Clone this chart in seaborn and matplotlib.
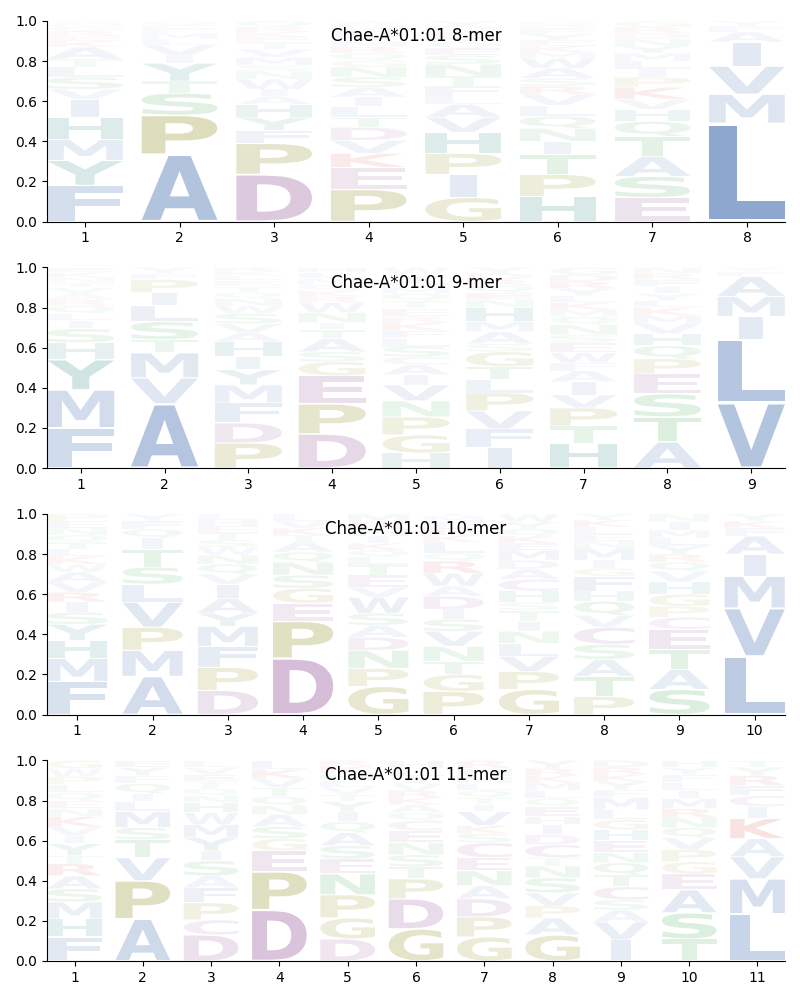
import matplotlib
matplotlib.use("Agg")
import matplotlib.pyplot as plt
import matplotlib.transforms as mtransforms
from matplotlib.textpath import TextPath
from matplotlib.patches import PathPatch
from matplotlib.font_manager import FontProperties
from matplotlib.colors import to_rgba
import seaborn as sns

# letters per position, bottom to top, with their frequencies
mer8_letters = ["FYMHIVSLTAKERQNW", "APSTYIVLMFEQ", "DPFYHAIWNSMVTEKRQ",
                "PEKVDTLIASNGQRMYFHW", "GIPHVALFTNSEQMKDY", "HPTINQLVRSAWMKEYFDG",
                "ESATQHVKPILMYNDRG", "LMVIAFY"]
mer8_heights = [
    [.18, .125, .105, .11, .09, .05, .06, .05, .04, .06, .03, .025, .025, .02, .015, .015],
    [.335, .195, .11, .06, .09, .04, .05, .03, .03, .02, .02, .02],
    [.235, .155, .065, .065, .065, .04, .035, .05, .04, .03, .04, .04, .03, .03, .025, .025, .03],
    [.16, .11, .07, .065, .065, .05, .055, .045, .05, .05, .05, .035, .035, .03, .03, .03, .03, .02, .02],
    [.12, .115, .105, .105, .075, .065, .04, .05, .05, .06, .045, .035, .03, .03, .025, .025, .025],
    [.125, .11, .1, .065, .065, .06, .055, .055, .04, .04, .05, .05, .03, .03, .03, .03, .025, .02, .02],
    [.12, .105, .1, .1, .075, .06, .05, .06, .05, .04, .04, .04, .035, .035, .03, .03, .03],
    [.49, .145, .14, .12, .05, .03, .025],
]

mer9_letters = ["FMYHSILQRAVTNKE", "AVMTSLIPFY", "PDFMYIHAVSWNQTELKR",
                "DPEGSATINWRKQMLH", "HGPNVIACSLFKRETQMDYW", "IFVPLTGSAMHNEQRDY",
                "HTPVIAFWESNQMKLYRDG", "ATSEPQHVMKLYIFRN", "VLIMAFY"]
mer9_heights = [
    [.2, .19, .15, .085, .07, .04, .035, .04, .03, .03, .03, .025, .025, .025, .025],
    [.32, .13, .125, .065, .09, .08, .065, .065, .03, .03],
    [.125, .1, .1, .09, .075, .065, .075, .045, .045, .05, .04, .035, .03, .03, .03, .025, .02, .02],
    [.17, .15, .14, .07, .05, .065, .045, .035, .05, .05, .03, .03, .03, .03, .03, .025],
    [.075, .09, .09, .08, .08, .05, .05, .04, .05, .04, .04, .04, .03, .04, .04, .035, .03, .03, .035, .035],
    [.105, .09, .09, .09, .065, .065, .075, .04, .06, .05, .07, .04, .035, .035, .03, .03, .03],
    [.125, .085, .09, .065, .065, .055, .04, .05, .05, .04, .05, .04, .035, .035, .035, .035, .035, .035, .035],
    [.13, .125, .115, .1, .075, .065, .06, .05, .04, .04, .035, .035, .035, .035, .03, .03],
    [.325, .315, .115, .1, .1, .025, .02],
]

mer10_letters = ["FMHYSIRVAWKLTQNEP", "AMPVLSTIQFY", "DPFMYAIVQNWSTEHL",
                 "DPEGSNQATKVL", "GPNDASWVETLQKIHRM", "PGTNVSIDAWRQLKEFMY",
                 "GPVLNITSHCADMEKQYW", "PTASCVQHFGIMNELKY", "SATECPGHVQRYLMIN",
                 "LVMIAFKY"]
mer10_heights = [
    [.165, .115, .09, .08, .06, .05, .05, .05, .05, .04, .04, .035, .035, .035, .035, .035, .035],
    [.19, .13, .115, .125, .09, .085, .09, .055, .045, .04, .035],
    [.12, .115, .105, .1, .065, .075, .07, .05, .05, .045, .04, .035, .035, .035, .03, .03],
    [.28, .185, .09, .075, .065, .065, .05, .05, .035, .035, .035, .035],
    [.14, .09, .09, .065, .06, .06, .08, .05, .06, .05, .04, .035, .035, .035, .035, .035, .04],
    [.115, .085, .065, .075, .075, .06, .05, .065, .05, .065, .06, .04, .055, .035, .035, .03, .03, .03],
    [.125, .09, .075, .065, .06, .05, .055, .04, .055, .06, .05, .045, .05, .035, .035, .035, .035, .04],
    [.09, .1, .085, .075, .085, .06, .07, .05, .075, .04, .04, .06, .035, .035, .035, .035, .03],
    [.125, .1, .1, .1, .06, .055, .06, .06, .055, .045, .04, .04, .04, .04, .04, .04],
    [.29, .24, .16, .11, .09, .04, .035, .035],
]

mer11_letters = ["FHMSARTYIVKNEQLPWG", "APVTSMLIQFYE", "DCPFASIYMWHNQTEVL",
                 "DPEGSANQTVKL", "DGPNESAQIYTVLHKR", "GDPTSNECQAKRVILH",
                 "GPDANECSKVITQLMHR", "GAPVSNTCDIHEQLMKRY", "IVASCTQNEHGLMFYKRD",
                 "TSAEGPVQNRMILFYH", "LMVAKICFRYT"]
mer11_heights = [
    [.12, .09, .085, .065, .065, .06, .04, .06, .04, .045, .05, .04, .04, .04, .04, .04, .04, .04],
    [.21, .19, .115, .09, .06, .08, .05, .04, .05, .04, .04, .035],
    [.13, .075, .085, .075, .06, .075, .05, .065, .065, .06, .05, .035, .035, .035, .035, .035, .035],
    [.255, .19, .105, .06, .06, .06, .045, .045, .045, .045, .045, .045],
    [.11, .105, .115, .105, .075, .065, .065, .055, .05, .05, .035, .035, .035, .035, .035, .03],
    [.16, .15, .1, .06, .06, .06, .06, .05, .04, .04, .035, .035, .035, .035, .04, .04],
    [.12, .1, .09, .065, .075, .065, .075, .045, .04, .07, .035, .035, .035, .035, .035, .04, .04],
    [.13, .085, .06, .065, .075, .06, .04, .065, .05, .05, .04, .05, .04, .04, .04, .035, .035, .04],
    [.105, .09, .06, .05, .065, .06, .06, .05, .06, .055, .05, .05, .06, .04, .04, .035, .035, .035],
    [.11, .13, .115, .08, .06, .06, .06, .05, .05, .045, .05, .04, .04, .04, .035, .035],
    [.235, .175, .11, .09, .1, .06, .055, .05, .05, .04, .035],
]

titles = ["Chae-A*01:01 8-mer", "Chae-A*01:01 9-mer",
          "Chae-A*01:01 10-mer", "Chae-A*01:01 11-mer"]

# amino acid colour groups
group_colors = {
    "AVLIMFW": (0.30, 0.46, 0.70),
    "PG": (0.50, 0.50, 0.02),
    "DEC": (0.57, 0.31, 0.59),
    "STNQ": (0.16, 0.63, 0.24),
    "KR": (0.80, 0.13, 0.13),
    "HY": (0.08, 0.47, 0.45),
}
aa_color = {aa: c for grp, c in group_colors.items() for aa in grp}

fp = FontProperties(family="DejaVu Sans", weight="bold")


def draw_letter(ax, char, x, y, h, width=0.8, vpad=0.05):
    path = TextPath((0, 0), char, size=1, prop=fp)
    ext = path.get_extents()
    w = width * (0.36 if char == "I" else 1.0)
    hh = h * (1 - vpad)
    tr = (mtransforms.Affine2D()
          .translate(-ext.x0, -ext.y0)
          .scale(w / ext.width, hh / ext.height)
          .translate(x - w / 2, y + h * vpad / 2))
    alpha = min(1.0, 1.3 * h)
    patch = PathPatch(tr.transform_path(path), facecolor=to_rgba(aa_color[char], alpha),
                      edgecolor="none")
    ax.add_patch(patch)


sns.set_style("ticks", {"text.color": "black", "axes.labelcolor": "black",
                        "xtick.color": "black", "ytick.color": "black",
                        "axes.edgecolor": "black"})
fig, axes = plt.subplots(4, 1, figsize=(8, 10), dpi=100)
fig.subplots_adjust(left=0.059, right=0.981, top=0.979, bottom=0.039, hspace=0.229)

panels = [(mer8_letters, mer8_heights), (mer9_letters, mer9_heights),
          (mer10_letters, mer10_heights), (mer11_letters, mer11_heights)]

for ax, (letters, heights), title in zip(axes, panels, titles):
    for i, (chars, hs) in enumerate(zip(letters, heights)):
        y = 0.0
        for ch, h in zip(chars, hs):
            draw_letter(ax, ch, i + 1, y, h)
            y += h
    n = len(letters)
    ax.set_xlim(0.6, n + 0.4)
    ax.set_ylim(0, 1)
    ax.set_xticks(range(1, n + 1))
    ax.set_yticks([0, 0.2, 0.4, 0.6, 0.8, 1.0])
    ax.tick_params(labelsize=10, colors="black")
    ax.text(0.5, 0.925, title, transform=ax.transAxes, ha="center", va="center",
            fontsize=12, color="black")
    sns.despine(ax=ax)

fig.savefig("out.png", dpi=100)
